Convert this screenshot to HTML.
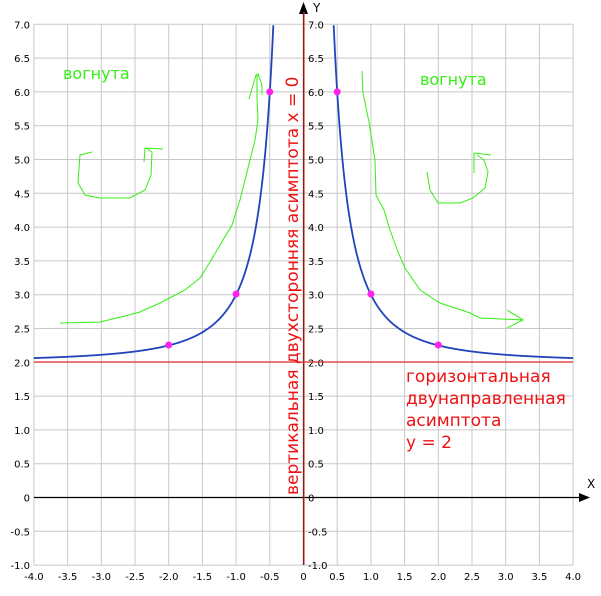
<!DOCTYPE html>
<html><head><meta charset="utf-8"><style>body{margin:0;background:#fff}svg{display:block}</style></head>
<body>
<svg id="s" width="601" height="596" xmlns="http://www.w3.org/2000/svg" font-family="'DejaVu Sans','Liberation Sans',sans-serif">
<g id="grid" stroke="#c8c8c8" stroke-width="1"></g>
<g id="labels" font-size="10" fill="#000"></g>
<line x1="34" y1="497.5" x2="585" y2="497.5" stroke="#000" stroke-width="1.2"/>
<polygon points="590,497.5 579,493 579,502" fill="#000"/>
<line x1="303.5" y1="5" x2="303.5" y2="565" stroke="#000" stroke-width="1.2"/>
<polygon points="303.5,2 299,14 308,14" fill="#000"/>
<line x1="304" y1="12" x2="304" y2="565" stroke="#e03030" stroke-width="1.2"/>
<line x1="34" y1="362" x2="573" y2="362" stroke="#e03030" stroke-width="1.2"/>
<text x="587" y="488" font-size="12" fill="#000">X</text>
<text x="313" y="12" font-size="12" fill="#000">Y</text>
<path id="cl" fill="none" stroke="#2244bb" stroke-width="1.8"/>
<path id="cr" fill="none" stroke="#2244bb" stroke-width="1.8"/>
<g fill="#ff22ee">
<circle cx="168.7" cy="345" r="3.5"/><circle cx="236.1" cy="294" r="3.5"/><circle cx="269.8" cy="91.9" r="3.5"/>
<circle cx="337.2" cy="91.9" r="3.5"/><circle cx="370.9" cy="294" r="3.5"/><circle cx="438.3" cy="345" r="3.5"/>
</g>
<g fill="none" stroke="#33ee11" stroke-width="1">
<polyline points="60,323 100,322 125,316 140,312 160,303 185,290 200,278 210,262 220,245 232,225 240,200 248,168 255,140 258,120 257,98 257,75"/>
<polyline points="249,99 253,85 256,75 258,74 262,85 262,95"/>
<polyline points="362,71 363,93 369,122 375,160 376,195 384,210 390,230 398,252 405,268 420,290 440,303 470,313 480,318 523,320"/>
<polyline points="507,310 523,320 507,328"/>
<polyline points="92,152 80,155 78,183 85,195 100,198 130,198 145,190 151,175 152,152 146,148"/>
<polyline points="144,162 145,148 163,149"/>
<polyline points="427,172 430,190 438,203 460,203 473,198 485,188 488,172 484,160 477,155"/>
<polyline points="474,173 474,153 491,155"/>
</g>
<g fill="#33ee11" font-size="16"><text x="63" y="79">вогнута</text><text x="420" y="85">вогнута</text></g>
<text transform="translate(298,495) rotate(-90)" font-size="17" fill="#ee1111">вертикальная двухсторонняя асимптота  x = 0</text>
<g fill="#ee1111" font-size="17"><text x="406" y="382">горизонтальная</text><text x="406" y="404">двунаправленная</text><text x="406" y="426">асимптота</text><text x="406" y="448">y = 2</text></g>
</svg>
<script>
var X=v=>303.5+67.4*v,Y=v=>497.5-67.6*v;
var g=document.getElementById('grid'),L=document.getElementById('labels'),ns='http://www.w3.org/2000/svg';
function el(p,t,a,txt){var e=document.createElementNS(ns,t);for(var k in a)e.setAttribute(k,a[k]);if(txt!==undefined)e.textContent=txt;p.appendChild(e);}
for(var i=-8;i<=8;i++){var v=i/2;el(g,'line',{x1:X(v),y1:Y(7),x2:X(v),y2:Y(-1)});
 var t=i==0?'0':v.toFixed(1);el(L,'text',{x:X(v),y:580,'text-anchor':'middle'},t);}
for(var j=-2;j<=14;j++){var v=j/2;el(g,'line',{x1:X(-4),y1:Y(v),x2:X(4),y2:Y(v)});
 var t=j==0?'0':v.toFixed(1);el(L,'text',{x:30,y:Y(v)+4,'text-anchor':'end'},t);el(L,'text',{x:308,y:Y(v)+4},t);}
function path(a,b){var d='';for(var k=0;k<=400;k++){var x=a+(b-a)*k/400;var y=2+1/(x*x);if(y>7.05)continue;d+=(d?'L':'M')+X(x).toFixed(2)+','+Y(y).toFixed(2);}return d;}
document.getElementById('cl').setAttribute('d',path(-4,-0.43));
document.getElementById('cr').setAttribute('d',path(0.43,4));
</script>
</body></html>
